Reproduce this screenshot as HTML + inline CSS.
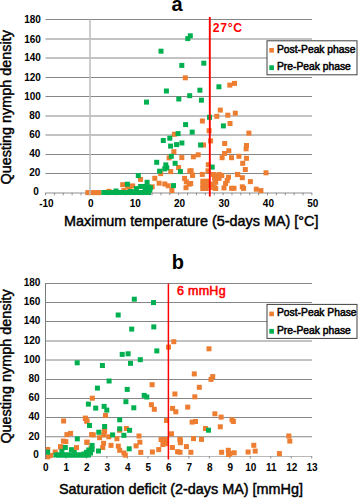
<!DOCTYPE html>
<html><head><meta charset="utf-8"><style>
html,body{margin:0;padding:0;background:#fff;}
body{width:358px;height:498px;overflow:hidden;}
svg{display:block;}
text{font-family:"Liberation Sans",sans-serif;fill:#000;}
.tl{font-size:10px;font-weight:bold;}
.lg{font-size:10.3px;stroke:#000;stroke-width:0.5px;}
.ti{font-size:14.4px;stroke:#000;stroke-width:0.45px;}
.big{font-size:20px;font-weight:bold;}
</style></head><body>
<svg width="358" height="498" viewBox="0 0 358 498">
<rect width="358" height="498" fill="#fff"/>
<line x1="45.5" y1="19.5" x2="312" y2="19.5" stroke="#868686" stroke-width="1"/>
<line x1="45.5" y1="39.0" x2="312" y2="39.0" stroke="#868686" stroke-width="1"/>
<line x1="45.5" y1="58.0" x2="312" y2="58.0" stroke="#868686" stroke-width="1"/>
<line x1="45.5" y1="77.5" x2="312" y2="77.5" stroke="#868686" stroke-width="1"/>
<line x1="45.5" y1="96.5" x2="312" y2="96.5" stroke="#868686" stroke-width="1"/>
<line x1="45.5" y1="116.0" x2="312" y2="116.0" stroke="#868686" stroke-width="1"/>
<line x1="45.5" y1="135.0" x2="312" y2="135.0" stroke="#868686" stroke-width="1"/>
<line x1="45.5" y1="154.5" x2="312" y2="154.5" stroke="#868686" stroke-width="1"/>
<line x1="45.5" y1="173.5" x2="312" y2="173.5" stroke="#868686" stroke-width="1"/>
<line x1="45.5" y1="193" x2="312" y2="193" stroke="#b4b4b4" stroke-width="1.6"/>
<line x1="45.50" y1="192.75" x2="45.50" y2="195.25" stroke="#8c8c8c" stroke-width="1"/>
<line x1="54.38" y1="192.75" x2="54.38" y2="195.25" stroke="#8c8c8c" stroke-width="1"/>
<line x1="63.26" y1="192.75" x2="63.26" y2="195.25" stroke="#8c8c8c" stroke-width="1"/>
<line x1="72.14" y1="192.75" x2="72.14" y2="195.25" stroke="#8c8c8c" stroke-width="1"/>
<line x1="81.02" y1="192.75" x2="81.02" y2="195.25" stroke="#8c8c8c" stroke-width="1"/>
<line x1="89.90" y1="192.75" x2="89.90" y2="195.25" stroke="#8c8c8c" stroke-width="1"/>
<line x1="98.78" y1="192.75" x2="98.78" y2="195.25" stroke="#8c8c8c" stroke-width="1"/>
<line x1="107.66" y1="192.75" x2="107.66" y2="195.25" stroke="#8c8c8c" stroke-width="1"/>
<line x1="116.54" y1="192.75" x2="116.54" y2="195.25" stroke="#8c8c8c" stroke-width="1"/>
<line x1="125.42" y1="192.75" x2="125.42" y2="195.25" stroke="#8c8c8c" stroke-width="1"/>
<line x1="134.30" y1="192.75" x2="134.30" y2="195.25" stroke="#8c8c8c" stroke-width="1"/>
<line x1="143.18" y1="192.75" x2="143.18" y2="195.25" stroke="#8c8c8c" stroke-width="1"/>
<line x1="152.06" y1="192.75" x2="152.06" y2="195.25" stroke="#8c8c8c" stroke-width="1"/>
<line x1="160.94" y1="192.75" x2="160.94" y2="195.25" stroke="#8c8c8c" stroke-width="1"/>
<line x1="169.82" y1="192.75" x2="169.82" y2="195.25" stroke="#8c8c8c" stroke-width="1"/>
<line x1="178.70" y1="192.75" x2="178.70" y2="195.25" stroke="#8c8c8c" stroke-width="1"/>
<line x1="187.58" y1="192.75" x2="187.58" y2="195.25" stroke="#8c8c8c" stroke-width="1"/>
<line x1="196.46" y1="192.75" x2="196.46" y2="195.25" stroke="#8c8c8c" stroke-width="1"/>
<line x1="205.34" y1="192.75" x2="205.34" y2="195.25" stroke="#8c8c8c" stroke-width="1"/>
<line x1="214.22" y1="192.75" x2="214.22" y2="195.25" stroke="#8c8c8c" stroke-width="1"/>
<line x1="223.10" y1="192.75" x2="223.10" y2="195.25" stroke="#8c8c8c" stroke-width="1"/>
<line x1="231.98" y1="192.75" x2="231.98" y2="195.25" stroke="#8c8c8c" stroke-width="1"/>
<line x1="240.86" y1="192.75" x2="240.86" y2="195.25" stroke="#8c8c8c" stroke-width="1"/>
<line x1="249.74" y1="192.75" x2="249.74" y2="195.25" stroke="#8c8c8c" stroke-width="1"/>
<line x1="258.62" y1="192.75" x2="258.62" y2="195.25" stroke="#8c8c8c" stroke-width="1"/>
<line x1="267.50" y1="192.75" x2="267.50" y2="195.25" stroke="#8c8c8c" stroke-width="1"/>
<line x1="276.38" y1="192.75" x2="276.38" y2="195.25" stroke="#8c8c8c" stroke-width="1"/>
<line x1="285.26" y1="192.75" x2="285.26" y2="195.25" stroke="#8c8c8c" stroke-width="1"/>
<line x1="294.14" y1="192.75" x2="294.14" y2="195.25" stroke="#8c8c8c" stroke-width="1"/>
<line x1="303.02" y1="192.75" x2="303.02" y2="195.25" stroke="#8c8c8c" stroke-width="1"/>
<line x1="311.90" y1="192.75" x2="311.90" y2="195.25" stroke="#8c8c8c" stroke-width="1"/>
<rect x="182.8" y="75.3" width="5.0" height="5.0" fill="#ED7D31"/>
<rect x="227.3" y="82.6" width="5.0" height="5.0" fill="#ED7D31"/>
<rect x="232.0" y="80.9" width="5.0" height="5.0" fill="#ED7D31"/>
<rect x="217.8" y="107.6" width="5.0" height="5.0" fill="#ED7D31"/>
<rect x="214.3" y="113.8" width="5.0" height="5.0" fill="#ED7D31"/>
<rect x="225.3" y="112.7" width="5.0" height="5.0" fill="#ED7D31"/>
<rect x="232.8" y="110.7" width="5.0" height="5.0" fill="#ED7D31"/>
<rect x="199.9" y="118.5" width="5.0" height="5.0" fill="#ED7D31"/>
<rect x="227.5" y="121.0" width="5.0" height="5.0" fill="#ED7D31"/>
<rect x="206.6" y="128.2" width="5.0" height="5.0" fill="#ED7D31"/>
<rect x="171.9" y="131.8" width="5.0" height="5.0" fill="#ED7D31"/>
<rect x="246.4" y="130.6" width="5.0" height="5.0" fill="#ED7D31"/>
<rect x="208.1" y="138.4" width="5.0" height="5.0" fill="#ED7D31"/>
<rect x="222.2" y="141.0" width="5.0" height="5.0" fill="#ED7D31"/>
<rect x="201.0" y="142.5" width="5.0" height="5.0" fill="#ED7D31"/>
<rect x="244.0" y="143.0" width="5.0" height="5.0" fill="#ED7D31"/>
<rect x="243.6" y="146.3" width="5.0" height="5.0" fill="#ED7D31"/>
<rect x="226.3" y="148.3" width="5.0" height="5.0" fill="#ED7D31"/>
<rect x="222.0" y="151.0" width="5.0" height="5.0" fill="#ED7D31"/>
<rect x="219.6" y="155.2" width="5.0" height="5.0" fill="#ED7D31"/>
<rect x="229.0" y="155.2" width="5.0" height="5.0" fill="#ED7D31"/>
<rect x="236.4" y="153.8" width="5.0" height="5.0" fill="#ED7D31"/>
<rect x="244.0" y="155.8" width="5.0" height="5.0" fill="#ED7D31"/>
<rect x="240.2" y="160.8" width="5.0" height="5.0" fill="#ED7D31"/>
<rect x="242.8" y="167.0" width="5.0" height="5.0" fill="#ED7D31"/>
<rect x="171.4" y="149.2" width="5.0" height="5.0" fill="#ED7D31"/>
<rect x="166.6" y="155.4" width="5.0" height="5.0" fill="#ED7D31"/>
<rect x="179.3" y="155.1" width="5.0" height="5.0" fill="#ED7D31"/>
<rect x="190.9" y="154.3" width="5.0" height="5.0" fill="#ED7D31"/>
<rect x="195.7" y="152.3" width="5.0" height="5.0" fill="#ED7D31"/>
<rect x="176.1" y="165.0" width="5.0" height="5.0" fill="#ED7D31"/>
<rect x="168.2" y="169.1" width="5.0" height="5.0" fill="#ED7D31"/>
<rect x="158.2" y="171.1" width="5.0" height="5.0" fill="#ED7D31"/>
<rect x="187.3" y="168.5" width="5.0" height="5.0" fill="#ED7D31"/>
<rect x="190.1" y="172.9" width="5.0" height="5.0" fill="#ED7D31"/>
<rect x="182.1" y="175.9" width="5.0" height="5.0" fill="#ED7D31"/>
<rect x="183.8" y="179.3" width="5.0" height="5.0" fill="#ED7D31"/>
<rect x="186.6" y="181.7" width="5.0" height="5.0" fill="#ED7D31"/>
<rect x="183.5" y="185.2" width="5.0" height="5.0" fill="#ED7D31"/>
<rect x="152.3" y="175.8" width="5.0" height="5.0" fill="#ED7D31"/>
<rect x="156.6" y="180.7" width="5.0" height="5.0" fill="#ED7D31"/>
<rect x="162.3" y="181.5" width="5.0" height="5.0" fill="#ED7D31"/>
<rect x="165.7" y="183.3" width="5.0" height="5.0" fill="#ED7D31"/>
<rect x="169.4" y="188.0" width="5.0" height="5.0" fill="#ED7D31"/>
<rect x="149.7" y="184.3" width="5.0" height="5.0" fill="#ED7D31"/>
<rect x="138.0" y="176.9" width="5.0" height="5.0" fill="#ED7D31"/>
<rect x="130.1" y="183.4" width="5.0" height="5.0" fill="#ED7D31"/>
<rect x="126.8" y="185.7" width="5.0" height="5.0" fill="#ED7D31"/>
<rect x="120.2" y="182.2" width="5.0" height="5.0" fill="#ED7D31"/>
<rect x="125.2" y="183.9" width="5.0" height="5.0" fill="#ED7D31"/>
<rect x="205.8" y="162.2" width="5.0" height="5.0" fill="#ED7D31"/>
<rect x="205.5" y="168.3" width="5.0" height="5.0" fill="#ED7D31"/>
<rect x="199.8" y="171.9" width="5.0" height="5.0" fill="#ED7D31"/>
<rect x="188.6" y="168.2" width="5.0" height="5.0" fill="#ED7D31"/>
<rect x="190.0" y="172.6" width="5.0" height="5.0" fill="#ED7D31"/>
<rect x="188.2" y="181.0" width="5.0" height="5.0" fill="#ED7D31"/>
<rect x="210.9" y="172.0" width="5.0" height="5.0" fill="#ED7D31"/>
<rect x="215.4" y="172.6" width="5.0" height="5.0" fill="#ED7D31"/>
<rect x="219.3" y="173.1" width="5.0" height="5.0" fill="#ED7D31"/>
<rect x="216.9" y="172.1" width="5.0" height="5.0" fill="#ED7D31"/>
<rect x="212.1" y="175.9" width="5.0" height="5.0" fill="#ED7D31"/>
<rect x="216.5" y="175.9" width="5.0" height="5.0" fill="#ED7D31"/>
<rect x="213.2" y="179.8" width="5.0" height="5.0" fill="#ED7D31"/>
<rect x="210.4" y="181.5" width="5.0" height="5.0" fill="#ED7D31"/>
<rect x="210.4" y="184.9" width="5.0" height="5.0" fill="#ED7D31"/>
<rect x="213.2" y="186.0" width="5.0" height="5.0" fill="#ED7D31"/>
<rect x="211.9" y="185.2" width="5.0" height="5.0" fill="#ED7D31"/>
<rect x="200.3" y="178.7" width="5.0" height="5.0" fill="#ED7D31"/>
<rect x="204.2" y="178.7" width="5.0" height="5.0" fill="#ED7D31"/>
<rect x="200.3" y="182.6" width="5.0" height="5.0" fill="#ED7D31"/>
<rect x="204.2" y="183.2" width="5.0" height="5.0" fill="#ED7D31"/>
<rect x="200.3" y="186.0" width="5.0" height="5.0" fill="#ED7D31"/>
<rect x="203.7" y="186.0" width="5.0" height="5.0" fill="#ED7D31"/>
<rect x="226.0" y="174.7" width="5.0" height="5.0" fill="#ED7D31"/>
<rect x="224.7" y="178.1" width="5.0" height="5.0" fill="#ED7D31"/>
<rect x="223.1" y="181.0" width="5.0" height="5.0" fill="#ED7D31"/>
<rect x="221.5" y="185.5" width="5.0" height="5.0" fill="#ED7D31"/>
<rect x="229.1" y="185.8" width="5.0" height="5.0" fill="#ED7D31"/>
<rect x="231.5" y="185.8" width="5.0" height="5.0" fill="#ED7D31"/>
<rect x="235.0" y="171.9" width="5.0" height="5.0" fill="#ED7D31"/>
<rect x="263.5" y="170.3" width="5.0" height="5.0" fill="#ED7D31"/>
<rect x="235.2" y="172.1" width="5.0" height="5.0" fill="#ED7D31"/>
<rect x="239.8" y="175.2" width="5.0" height="5.0" fill="#ED7D31"/>
<rect x="247.9" y="179.1" width="5.0" height="5.0" fill="#ED7D31"/>
<rect x="239.8" y="184.3" width="5.0" height="5.0" fill="#ED7D31"/>
<rect x="241.1" y="185.9" width="5.0" height="5.0" fill="#ED7D31"/>
<rect x="253.8" y="186.7" width="5.0" height="5.0" fill="#ED7D31"/>
<rect x="258.4" y="188.1" width="5.0" height="5.0" fill="#ED7D31"/>
<rect x="85.3" y="190.1" width="5.0" height="5.0" fill="#ED7D31"/>
<rect x="88.8" y="190.1" width="5.0" height="5.0" fill="#ED7D31"/>
<rect x="92.3" y="190.1" width="5.0" height="5.0" fill="#ED7D31"/>
<rect x="96.3" y="190.1" width="5.0" height="5.0" fill="#ED7D31"/>
<rect x="106.5" y="188.8" width="5.0" height="5.0" fill="#ED7D31"/>
<rect x="121.3" y="188.1" width="5.0" height="5.0" fill="#ED7D31"/>
<rect x="101.3" y="190.0" width="5.0" height="5.0" fill="#00B050"/>
<rect x="104.0" y="190.0" width="5.0" height="5.0" fill="#00B050"/>
<rect x="107.0" y="190.0" width="5.0" height="5.0" fill="#00B050"/>
<rect x="110.0" y="190.0" width="5.0" height="5.0" fill="#00B050"/>
<rect x="113.0" y="190.0" width="5.0" height="5.0" fill="#00B050"/>
<rect x="116.0" y="190.0" width="5.0" height="5.0" fill="#00B050"/>
<rect x="119.0" y="190.0" width="5.0" height="5.0" fill="#00B050"/>
<rect x="122.0" y="190.0" width="5.0" height="5.0" fill="#00B050"/>
<rect x="125.0" y="190.0" width="5.0" height="5.0" fill="#00B050"/>
<rect x="128.0" y="190.0" width="5.0" height="5.0" fill="#00B050"/>
<rect x="131.0" y="190.0" width="5.0" height="5.0" fill="#00B050"/>
<rect x="134.0" y="190.0" width="5.0" height="5.0" fill="#00B050"/>
<rect x="137.0" y="190.0" width="5.0" height="5.0" fill="#00B050"/>
<rect x="140.0" y="190.0" width="5.0" height="5.0" fill="#00B050"/>
<rect x="143.0" y="190.0" width="5.0" height="5.0" fill="#00B050"/>
<rect x="146.0" y="190.0" width="5.0" height="5.0" fill="#00B050"/>
<rect x="113.5" y="188.5" width="5.0" height="5.0" fill="#00B050"/>
<rect x="133.9" y="186.1" width="5.0" height="5.0" fill="#00B050"/>
<rect x="138.1" y="184.0" width="5.0" height="5.0" fill="#00B050"/>
<rect x="141.4" y="184.0" width="5.0" height="5.0" fill="#00B050"/>
<rect x="145.6" y="184.4" width="5.0" height="5.0" fill="#00B050"/>
<rect x="142.7" y="187.7" width="5.0" height="5.0" fill="#00B050"/>
<rect x="147.3" y="187.7" width="5.0" height="5.0" fill="#00B050"/>
<rect x="128.0" y="189.0" width="5.0" height="5.0" fill="#00B050"/>
<rect x="132.2" y="189.4" width="5.0" height="5.0" fill="#00B050"/>
<rect x="187.8" y="33.3" width="5.0" height="5.0" fill="#00B050"/>
<rect x="185.3" y="36.1" width="5.0" height="5.0" fill="#00B050"/>
<rect x="158.5" y="48.7" width="5.0" height="5.0" fill="#00B050"/>
<rect x="179.3" y="62.9" width="5.0" height="5.0" fill="#00B050"/>
<rect x="201.3" y="60.7" width="5.0" height="5.0" fill="#00B050"/>
<rect x="163.9" y="88.5" width="5.0" height="5.0" fill="#00B050"/>
<rect x="197.4" y="87.7" width="5.0" height="5.0" fill="#00B050"/>
<rect x="187.2" y="93.2" width="5.0" height="5.0" fill="#00B050"/>
<rect x="176.3" y="96.5" width="5.0" height="5.0" fill="#00B050"/>
<rect x="198.9" y="97.7" width="5.0" height="5.0" fill="#00B050"/>
<rect x="144.0" y="99.6" width="5.0" height="5.0" fill="#00B050"/>
<rect x="216.4" y="84.3" width="5.0" height="5.0" fill="#00B050"/>
<rect x="207.0" y="114.8" width="5.0" height="5.0" fill="#00B050"/>
<rect x="183.1" y="122.1" width="5.0" height="5.0" fill="#00B050"/>
<rect x="220.9" y="123.4" width="5.0" height="5.0" fill="#00B050"/>
<rect x="189.7" y="129.6" width="5.0" height="5.0" fill="#00B050"/>
<rect x="175.6" y="131.1" width="5.0" height="5.0" fill="#00B050"/>
<rect x="167.3" y="135.7" width="5.0" height="5.0" fill="#00B050"/>
<rect x="160.8" y="138.0" width="5.0" height="5.0" fill="#00B050"/>
<rect x="168.1" y="143.6" width="5.0" height="5.0" fill="#00B050"/>
<rect x="174.1" y="142.1" width="5.0" height="5.0" fill="#00B050"/>
<rect x="179.4" y="140.5" width="5.0" height="5.0" fill="#00B050"/>
<rect x="198.1" y="142.5" width="5.0" height="5.0" fill="#00B050"/>
<rect x="168.8" y="153.8" width="5.0" height="5.0" fill="#00B050"/>
<rect x="154.2" y="159.8" width="5.0" height="5.0" fill="#00B050"/>
<rect x="172.6" y="160.8" width="5.0" height="5.0" fill="#00B050"/>
<rect x="163.3" y="162.4" width="5.0" height="5.0" fill="#00B050"/>
<rect x="164.3" y="165.3" width="5.0" height="5.0" fill="#00B050"/>
<rect x="162.2" y="166.4" width="5.0" height="5.0" fill="#00B050"/>
<rect x="157.1" y="168.7" width="5.0" height="5.0" fill="#00B050"/>
<rect x="177.9" y="169.1" width="5.0" height="5.0" fill="#00B050"/>
<rect x="209.7" y="164.6" width="5.0" height="5.0" fill="#00B050"/>
<rect x="135.8" y="173.1" width="5.0" height="5.0" fill="#00B050"/>
<rect x="144.6" y="179.8" width="5.0" height="5.0" fill="#00B050"/>
<rect x="124.9" y="181.7" width="5.0" height="5.0" fill="#00B050"/>
<rect x="171.0" y="183.1" width="5.0" height="5.0" fill="#00B050"/>
<rect x="147.9" y="185.2" width="5.0" height="5.0" fill="#00B050"/>
<line x1="90" y1="19.5" x2="90" y2="195" stroke="#bfbfbf" stroke-width="1.6"/>
<line x1="209.8" y1="17" x2="209.8" y2="196.5" stroke="#ff0000" stroke-width="1.9"/>
<text x="40.9" y="23.1" text-anchor="end" class="tl">180</text>
<text x="40.9" y="42.5" text-anchor="end" class="tl">160</text>
<text x="40.9" y="61.4" text-anchor="end" class="tl">140</text>
<text x="40.9" y="80.8" text-anchor="end" class="tl">120</text>
<text x="40.9" y="99.7" text-anchor="end" class="tl">100</text>
<text x="40.3" y="119.1" text-anchor="end" class="tl">80</text>
<text x="40.3" y="138.0" text-anchor="end" class="tl">60</text>
<text x="40.3" y="157.4" text-anchor="end" class="tl">40</text>
<text x="40.3" y="176.3" text-anchor="end" class="tl">20</text>
<text x="38.8" y="195.2" text-anchor="end" class="tl">0</text>
<text x="46.4" y="206.5" text-anchor="middle" class="tl">-10</text>
<text x="90.8" y="206.5" text-anchor="middle" class="tl">0</text>
<text x="135.2" y="206.5" text-anchor="middle" class="tl">10</text>
<text x="179.6" y="206.5" text-anchor="middle" class="tl">20</text>
<text x="224.0" y="206.5" text-anchor="middle" class="tl">30</text>
<text x="268.4" y="206.5" text-anchor="middle" class="tl">40</text>
<text x="312.8" y="206.5" text-anchor="middle" class="tl">50</text>
<rect x="267" y="40.8" width="90" height="34" fill="#fff" stroke="#404040" stroke-width="1"/>
<rect x="269.3" y="48.0" width="4.6" height="4.6" fill="#ED7D31"/>
<rect x="269.3" y="65.3" width="4.6" height="4.8" fill="#00B050"/>
<text x="277" y="52.8" class="lg">Post-Peak phase</text>
<text x="277" y="70.0" class="lg">Pre-Peak phase</text>
<text x="171.6" y="11.0" class="big">a</text>
<text x="212.7" y="32.4" style="font-size:12.2px;font-weight:bold;fill:#ff0000;letter-spacing:0.7px">27°C</text>
<text x="64" y="226.3" class="ti">Maximum temperature (5-days MA) [°C]</text>
<text transform="translate(10.7,184.5) rotate(-90)" class="ti">Questing nymph density</text>
<line x1="45.5" y1="283.5" x2="312" y2="283.5" stroke="#868686" stroke-width="1"/>
<line x1="45.5" y1="302.5" x2="312" y2="302.5" stroke="#868686" stroke-width="1"/>
<line x1="45.5" y1="321.5" x2="312" y2="321.5" stroke="#868686" stroke-width="1"/>
<line x1="45.5" y1="341.0" x2="312" y2="341.0" stroke="#868686" stroke-width="1"/>
<line x1="45.5" y1="360.0" x2="312" y2="360.0" stroke="#868686" stroke-width="1"/>
<line x1="45.5" y1="379.5" x2="312" y2="379.5" stroke="#868686" stroke-width="1"/>
<line x1="45.5" y1="398.5" x2="312" y2="398.5" stroke="#868686" stroke-width="1"/>
<line x1="45.5" y1="417.5" x2="312" y2="417.5" stroke="#868686" stroke-width="1"/>
<line x1="45.5" y1="436.75" x2="312" y2="436.75" stroke="#868686" stroke-width="1"/>
<line x1="45.5" y1="456.5" x2="312" y2="456.5" stroke="#b8b8b8" stroke-width="1"/>
<line x1="45.50" y1="456.0" x2="45.50" y2="458.5" stroke="#8c8c8c" stroke-width="1"/>
<line x1="65.98" y1="456.0" x2="65.98" y2="458.5" stroke="#8c8c8c" stroke-width="1"/>
<line x1="86.46" y1="456.0" x2="86.46" y2="458.5" stroke="#8c8c8c" stroke-width="1"/>
<line x1="106.94" y1="456.0" x2="106.94" y2="458.5" stroke="#8c8c8c" stroke-width="1"/>
<line x1="127.42" y1="456.0" x2="127.42" y2="458.5" stroke="#8c8c8c" stroke-width="1"/>
<line x1="147.90" y1="456.0" x2="147.90" y2="458.5" stroke="#8c8c8c" stroke-width="1"/>
<line x1="168.38" y1="456.0" x2="168.38" y2="458.5" stroke="#8c8c8c" stroke-width="1"/>
<line x1="188.86" y1="456.0" x2="188.86" y2="458.5" stroke="#8c8c8c" stroke-width="1"/>
<line x1="209.34" y1="456.0" x2="209.34" y2="458.5" stroke="#8c8c8c" stroke-width="1"/>
<line x1="229.82" y1="456.0" x2="229.82" y2="458.5" stroke="#8c8c8c" stroke-width="1"/>
<line x1="250.30" y1="456.0" x2="250.30" y2="458.5" stroke="#8c8c8c" stroke-width="1"/>
<line x1="270.78" y1="456.0" x2="270.78" y2="458.5" stroke="#8c8c8c" stroke-width="1"/>
<line x1="291.26" y1="456.0" x2="291.26" y2="458.5" stroke="#8c8c8c" stroke-width="1"/>
<line x1="311.74" y1="456.0" x2="311.74" y2="458.5" stroke="#8c8c8c" stroke-width="1"/>
<rect x="171.3" y="339.2" width="5.0" height="5.0" fill="#ED7D31"/>
<rect x="166.0" y="344.6" width="5.0" height="5.0" fill="#ED7D31"/>
<rect x="206.5" y="346.3" width="5.0" height="5.0" fill="#ED7D31"/>
<rect x="191.8" y="371.4" width="5.0" height="5.0" fill="#ED7D31"/>
<rect x="210.2" y="374.1" width="5.0" height="5.0" fill="#ED7D31"/>
<rect x="208.5" y="376.9" width="5.0" height="5.0" fill="#ED7D31"/>
<rect x="196.8" y="384.8" width="5.0" height="5.0" fill="#ED7D31"/>
<rect x="149.6" y="382.2" width="5.0" height="5.0" fill="#ED7D31"/>
<rect x="172.4" y="391.5" width="5.0" height="5.0" fill="#ED7D31"/>
<rect x="192.3" y="394.3" width="5.0" height="5.0" fill="#ED7D31"/>
<rect x="89.8" y="395.7" width="5.0" height="5.0" fill="#ED7D31"/>
<rect x="148.9" y="402.2" width="5.0" height="5.0" fill="#ED7D31"/>
<rect x="151.8" y="406.8" width="5.0" height="5.0" fill="#ED7D31"/>
<rect x="170.1" y="405.9" width="5.0" height="5.0" fill="#ED7D31"/>
<rect x="173.3" y="409.3" width="5.0" height="5.0" fill="#ED7D31"/>
<rect x="185.2" y="404.6" width="5.0" height="5.0" fill="#ED7D31"/>
<rect x="103.0" y="412.9" width="5.0" height="5.0" fill="#ED7D31"/>
<rect x="212.4" y="411.3" width="5.0" height="5.0" fill="#ED7D31"/>
<rect x="218.6" y="414.6" width="5.0" height="5.0" fill="#ED7D31"/>
<rect x="229.5" y="417.3" width="5.0" height="5.0" fill="#ED7D31"/>
<rect x="230.9" y="419.0" width="5.0" height="5.0" fill="#ED7D31"/>
<rect x="164.0" y="418.0" width="5.0" height="5.0" fill="#ED7D31"/>
<rect x="189.6" y="419.6" width="5.0" height="5.0" fill="#ED7D31"/>
<rect x="193.0" y="419.0" width="5.0" height="5.0" fill="#ED7D31"/>
<rect x="83.0" y="416.0" width="5.0" height="5.0" fill="#ED7D31"/>
<rect x="84.5" y="418.7" width="5.0" height="5.0" fill="#ED7D31"/>
<rect x="61.1" y="418.5" width="5.0" height="5.0" fill="#ED7D31"/>
<rect x="203.0" y="426.0" width="5.0" height="5.0" fill="#ED7D31"/>
<rect x="217.8" y="424.3" width="5.0" height="5.0" fill="#ED7D31"/>
<rect x="123.9" y="426.0" width="5.0" height="5.0" fill="#ED7D31"/>
<rect x="102.1" y="428.5" width="5.0" height="5.0" fill="#ED7D31"/>
<rect x="90.8" y="432.4" width="5.0" height="5.0" fill="#ED7D31"/>
<rect x="101.3" y="432.4" width="5.0" height="5.0" fill="#ED7D31"/>
<rect x="106.3" y="434.3" width="5.0" height="5.0" fill="#ED7D31"/>
<rect x="97.1" y="435.2" width="5.0" height="5.0" fill="#ED7D31"/>
<rect x="114.4" y="436.2" width="5.0" height="5.0" fill="#ED7D31"/>
<rect x="117.2" y="427.8" width="5.0" height="5.0" fill="#ED7D31"/>
<rect x="101.8" y="428.9" width="5.0" height="5.0" fill="#ED7D31"/>
<rect x="136.5" y="433.5" width="5.0" height="5.0" fill="#ED7D31"/>
<rect x="169.0" y="431.3" width="5.0" height="5.0" fill="#ED7D31"/>
<rect x="158.6" y="437.0" width="5.0" height="5.0" fill="#ED7D31"/>
<rect x="163.0" y="437.0" width="5.0" height="5.0" fill="#ED7D31"/>
<rect x="177.4" y="436.9" width="5.0" height="5.0" fill="#ED7D31"/>
<rect x="191.0" y="436.1" width="5.0" height="5.0" fill="#ED7D31"/>
<rect x="199.0" y="436.9" width="5.0" height="5.0" fill="#ED7D31"/>
<rect x="177.9" y="438.1" width="5.0" height="5.0" fill="#ED7D31"/>
<rect x="177.9" y="440.2" width="5.0" height="5.0" fill="#ED7D31"/>
<rect x="137.4" y="439.7" width="5.0" height="5.0" fill="#ED7D31"/>
<rect x="133.6" y="443.4" width="5.0" height="5.0" fill="#ED7D31"/>
<rect x="138.3" y="449.9" width="5.0" height="5.0" fill="#ED7D31"/>
<rect x="149.9" y="449.5" width="5.0" height="5.0" fill="#ED7D31"/>
<rect x="156.2" y="447.1" width="5.0" height="5.0" fill="#ED7D31"/>
<rect x="160.4" y="442.0" width="5.0" height="5.0" fill="#ED7D31"/>
<rect x="163.2" y="441.1" width="5.0" height="5.0" fill="#ED7D31"/>
<rect x="169.9" y="445.0" width="5.0" height="5.0" fill="#ED7D31"/>
<rect x="175.1" y="449.2" width="5.0" height="5.0" fill="#ED7D31"/>
<rect x="183.9" y="444.1" width="5.0" height="5.0" fill="#ED7D31"/>
<rect x="177.5" y="449.8" width="5.0" height="5.0" fill="#ED7D31"/>
<rect x="188.4" y="449.8" width="5.0" height="5.0" fill="#ED7D31"/>
<rect x="219.1" y="449.8" width="5.0" height="5.0" fill="#ED7D31"/>
<rect x="225.8" y="447.8" width="5.0" height="5.0" fill="#ED7D31"/>
<rect x="226.1" y="452.0" width="5.0" height="5.0" fill="#ED7D31"/>
<rect x="227.2" y="451.1" width="5.0" height="5.0" fill="#ED7D31"/>
<rect x="231.7" y="450.3" width="5.0" height="5.0" fill="#ED7D31"/>
<rect x="245.6" y="449.5" width="5.0" height="5.0" fill="#ED7D31"/>
<rect x="251.3" y="442.8" width="5.0" height="5.0" fill="#ED7D31"/>
<rect x="252.7" y="448.6" width="5.0" height="5.0" fill="#ED7D31"/>
<rect x="276.9" y="451.1" width="5.0" height="5.0" fill="#ED7D31"/>
<rect x="286.3" y="433.5" width="5.0" height="5.0" fill="#ED7D31"/>
<rect x="287.3" y="438.6" width="5.0" height="5.0" fill="#ED7D31"/>
<rect x="84.4" y="439.8" width="5.0" height="5.0" fill="#ED7D31"/>
<rect x="101.1" y="440.8" width="5.0" height="5.0" fill="#ED7D31"/>
<rect x="108.5" y="442.9" width="5.0" height="5.0" fill="#ED7D31"/>
<rect x="100.2" y="445.0" width="5.0" height="5.0" fill="#ED7D31"/>
<rect x="115.8" y="443.6" width="5.0" height="5.0" fill="#ED7D31"/>
<rect x="117.2" y="447.8" width="5.0" height="5.0" fill="#ED7D31"/>
<rect x="121.4" y="450.5" width="5.0" height="5.0" fill="#ED7D31"/>
<rect x="122.8" y="452.6" width="5.0" height="5.0" fill="#ED7D31"/>
<rect x="88.5" y="445.5" width="5.0" height="5.0" fill="#ED7D31"/>
<rect x="64.4" y="432.1" width="5.0" height="5.0" fill="#ED7D31"/>
<rect x="68.1" y="430.9" width="5.0" height="5.0" fill="#ED7D31"/>
<rect x="89.1" y="432.1" width="5.0" height="5.0" fill="#ED7D31"/>
<rect x="63.3" y="439.1" width="5.0" height="5.0" fill="#ED7D31"/>
<rect x="84.5" y="439.7" width="5.0" height="5.0" fill="#ED7D31"/>
<rect x="58.0" y="444.5" width="5.0" height="5.0" fill="#ED7D31"/>
<rect x="74.0" y="445.1" width="5.0" height="5.0" fill="#ED7D31"/>
<rect x="45.3" y="447.0" width="5.0" height="5.0" fill="#ED7D31"/>
<rect x="52.7" y="449.5" width="5.0" height="5.0" fill="#ED7D31"/>
<rect x="48.1" y="452.9" width="5.0" height="5.0" fill="#ED7D31"/>
<rect x="45.3" y="454.3" width="5.0" height="5.0" fill="#ED7D31"/>
<rect x="82.8" y="415.6" width="5.0" height="5.0" fill="#ED7D31"/>
<rect x="84.2" y="418.4" width="5.0" height="5.0" fill="#ED7D31"/>
<rect x="60.9" y="438.6" width="5.0" height="5.0" fill="#ED7D31"/>
<rect x="58.1" y="444.2" width="5.0" height="5.0" fill="#ED7D31"/>
<rect x="53.5" y="452.5" width="5.0" height="5.0" fill="#00B050"/>
<rect x="56.0" y="452.5" width="5.0" height="5.0" fill="#00B050"/>
<rect x="58.5" y="452.5" width="5.0" height="5.0" fill="#00B050"/>
<rect x="61.0" y="452.5" width="5.0" height="5.0" fill="#00B050"/>
<rect x="63.5" y="452.5" width="5.0" height="5.0" fill="#00B050"/>
<rect x="66.0" y="452.5" width="5.0" height="5.0" fill="#00B050"/>
<rect x="68.5" y="452.5" width="5.0" height="5.0" fill="#00B050"/>
<rect x="71.0" y="452.5" width="5.0" height="5.0" fill="#00B050"/>
<rect x="73.5" y="452.5" width="5.0" height="5.0" fill="#00B050"/>
<rect x="76.0" y="452.5" width="5.0" height="5.0" fill="#00B050"/>
<rect x="78.5" y="452.5" width="5.0" height="5.0" fill="#00B050"/>
<rect x="81.0" y="452.5" width="5.0" height="5.0" fill="#00B050"/>
<rect x="83.5" y="452.5" width="5.0" height="5.0" fill="#00B050"/>
<rect x="86.0" y="452.5" width="5.0" height="5.0" fill="#00B050"/>
<rect x="45.0" y="449.7" width="5.0" height="5.0" fill="#00B050"/>
<rect x="59.4" y="448.9" width="5.0" height="5.0" fill="#00B050"/>
<rect x="62.8" y="445.0" width="5.0" height="5.0" fill="#00B050"/>
<rect x="68.9" y="447.2" width="5.0" height="5.0" fill="#00B050"/>
<rect x="71.7" y="450.0" width="5.0" height="5.0" fill="#00B050"/>
<rect x="88.0" y="450.5" width="5.0" height="5.0" fill="#00B050"/>
<rect x="81.5" y="451.5" width="5.0" height="5.0" fill="#00B050"/>
<rect x="84.0" y="449.8" width="5.0" height="5.0" fill="#00B050"/>
<rect x="86.3" y="447.5" width="5.0" height="5.0" fill="#00B050"/>
<rect x="131.8" y="296.7" width="5.0" height="5.0" fill="#00B050"/>
<rect x="151.0" y="300.1" width="5.0" height="5.0" fill="#00B050"/>
<rect x="115.7" y="312.5" width="5.0" height="5.0" fill="#00B050"/>
<rect x="129.2" y="326.6" width="5.0" height="5.0" fill="#00B050"/>
<rect x="151.3" y="324.4" width="5.0" height="5.0" fill="#00B050"/>
<rect x="154.3" y="348.4" width="5.0" height="5.0" fill="#00B050"/>
<rect x="119.7" y="351.9" width="5.0" height="5.0" fill="#00B050"/>
<rect x="125.6" y="351.3" width="5.0" height="5.0" fill="#00B050"/>
<rect x="137.8" y="357.2" width="5.0" height="5.0" fill="#00B050"/>
<rect x="128.0" y="360.8" width="5.0" height="5.0" fill="#00B050"/>
<rect x="74.7" y="360.3" width="5.0" height="5.0" fill="#00B050"/>
<rect x="99.9" y="363.0" width="5.0" height="5.0" fill="#00B050"/>
<rect x="106.6" y="378.5" width="5.0" height="5.0" fill="#00B050"/>
<rect x="94.9" y="385.6" width="5.0" height="5.0" fill="#00B050"/>
<rect x="124.7" y="386.9" width="5.0" height="5.0" fill="#00B050"/>
<rect x="141.7" y="392.9" width="5.0" height="5.0" fill="#00B050"/>
<rect x="144.3" y="394.5" width="5.0" height="5.0" fill="#00B050"/>
<rect x="85.9" y="401.6" width="5.0" height="5.0" fill="#00B050"/>
<rect x="93.2" y="405.6" width="5.0" height="5.0" fill="#00B050"/>
<rect x="101.6" y="403.9" width="5.0" height="5.0" fill="#00B050"/>
<rect x="104.3" y="407.6" width="5.0" height="5.0" fill="#00B050"/>
<rect x="123.4" y="399.2" width="5.0" height="5.0" fill="#00B050"/>
<rect x="131.3" y="405.3" width="5.0" height="5.0" fill="#00B050"/>
<rect x="117.2" y="417.3" width="5.0" height="5.0" fill="#00B050"/>
<rect x="87.0" y="423.0" width="5.0" height="5.0" fill="#00B050"/>
<rect x="102.1" y="424.0" width="5.0" height="5.0" fill="#00B050"/>
<rect x="96.3" y="429.7" width="5.0" height="5.0" fill="#00B050"/>
<rect x="117.2" y="426.3" width="5.0" height="5.0" fill="#00B050"/>
<rect x="127.1" y="427.8" width="5.0" height="5.0" fill="#00B050"/>
<rect x="110.1" y="432.4" width="5.0" height="5.0" fill="#00B050"/>
<rect x="121.4" y="432.8" width="5.0" height="5.0" fill="#00B050"/>
<rect x="89.6" y="442.9" width="5.0" height="5.0" fill="#00B050"/>
<rect x="74.8" y="436.4" width="5.0" height="5.0" fill="#00B050"/>
<rect x="126.7" y="446.3" width="5.0" height="5.0" fill="#00B050"/>
<rect x="96.0" y="448.5" width="5.0" height="5.0" fill="#00B050"/>
<rect x="89.6" y="447.1" width="5.0" height="5.0" fill="#00B050"/>
<rect x="206.0" y="427.7" width="5.0" height="5.0" fill="#00B050"/>
<line x1="45.5" y1="283" x2="45.5" y2="458.8" stroke="#7a7a7a" stroke-width="1"/>
<line x1="168.4" y1="283.5" x2="168.4" y2="459.5" stroke="#ff0000" stroke-width="1.5"/>
<text x="40.4" y="286.3" text-anchor="end" class="tl">180</text>
<text x="40.4" y="305.3" text-anchor="end" class="tl">160</text>
<text x="40.4" y="324.3" text-anchor="end" class="tl">140</text>
<text x="40.4" y="343.8" text-anchor="end" class="tl">120</text>
<text x="40.4" y="362.8" text-anchor="end" class="tl">100</text>
<text x="39.5" y="382.3" text-anchor="end" class="tl">80</text>
<text x="39.5" y="401.3" text-anchor="end" class="tl">60</text>
<text x="39.5" y="420.3" text-anchor="end" class="tl">40</text>
<text x="39.5" y="439.6" text-anchor="end" class="tl">20</text>
<text x="38.8" y="458.4" text-anchor="end" class="tl">0</text>
<text x="45.9" y="470.6" text-anchor="middle" class="tl">0</text>
<text x="66.4" y="470.6" text-anchor="middle" class="tl">1</text>
<text x="86.9" y="470.6" text-anchor="middle" class="tl">2</text>
<text x="107.3" y="470.6" text-anchor="middle" class="tl">3</text>
<text x="127.8" y="470.6" text-anchor="middle" class="tl">4</text>
<text x="148.3" y="470.6" text-anchor="middle" class="tl">5</text>
<text x="168.8" y="470.6" text-anchor="middle" class="tl">6</text>
<text x="189.3" y="470.6" text-anchor="middle" class="tl">7</text>
<text x="209.7" y="470.6" text-anchor="middle" class="tl">8</text>
<text x="230.2" y="470.6" text-anchor="middle" class="tl">9</text>
<text x="250.7" y="470.6" text-anchor="middle" class="tl">10</text>
<text x="271.2" y="470.6" text-anchor="middle" class="tl">11</text>
<text x="291.7" y="470.6" text-anchor="middle" class="tl">12</text>
<text x="312.1" y="470.6" text-anchor="middle" class="tl">13</text>
<rect x="267" y="304.4" width="90" height="34" fill="#fff" stroke="#404040" stroke-width="1"/>
<rect x="269.3" y="311.59999999999997" width="4.6" height="4.6" fill="#ED7D31"/>
<rect x="269.3" y="328.9" width="4.6" height="4.8" fill="#00B050"/>
<text x="277" y="316.4" class="lg">Post-Peak Phase</text>
<text x="277" y="333.59999999999997" class="lg">Pre-Peak phase</text>
<text x="171.8" y="268.5" class="big">b</text>
<text x="176.9" y="294.6" style="font-size:12.5px;fill:#ff0000;stroke:#ff0000;stroke-width:0.55px;letter-spacing:0.3px">6 mmHg</text>
<text x="59" y="494.1" class="ti">Saturation deficit (2-days MA) [mmHg]</text>
<text transform="translate(10.7,443.6) rotate(-90)" class="ti">Questing nymph density</text>
</svg>
</body></html>
